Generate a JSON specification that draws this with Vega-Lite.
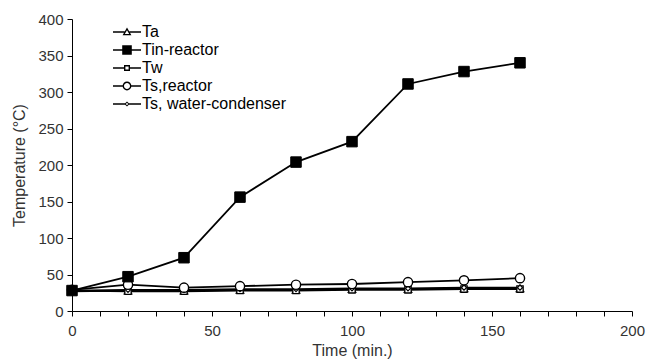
{
  "$schema": "https://vega.github.io/schema/vega-lite/v6.json",
  "width": 560,
  "height": 292,
  "autosize": {"type": "none"},
  "padding": {"left": 72, "top": 19, "right": 16, "bottom": 51},
  "config": {
    "view": {"stroke": null},
    "font": "Liberation Sans",
    "axis": {
      "grid": false,
      "domainColor": "#000000",
      "domainWidth": 1,
      "tickColor": "#000000",
      "tickSize": 5,
      "labelFont": "Liberation Sans",
      "labelFontSize": 15,
      "labelColor": "#333333",
      "titleFont": "Liberation Sans",
      "titleFontSize": 16,
      "titleFontWeight": "normal",
      "titleColor": "#333333"
    }
  },
  "data": {
    "values": [
      {"series": "Ta", "time": 0, "temp": 27},
      {"series": "Ta", "time": 20, "temp": 28},
      {"series": "Ta", "time": 40, "temp": 28},
      {"series": "Ta", "time": 60, "temp": 29},
      {"series": "Ta", "time": 80, "temp": 29},
      {"series": "Ta", "time": 100, "temp": 30},
      {"series": "Ta", "time": 120, "temp": 30},
      {"series": "Ta", "time": 140, "temp": 31},
      {"series": "Ta", "time": 160, "temp": 31},
      {"series": "Tin-reactor", "time": 0, "temp": 28},
      {"series": "Tin-reactor", "time": 20, "temp": 47},
      {"series": "Tin-reactor", "time": 40, "temp": 73},
      {"series": "Tin-reactor", "time": 60, "temp": 156},
      {"series": "Tin-reactor", "time": 80, "temp": 204},
      {"series": "Tin-reactor", "time": 100, "temp": 232},
      {"series": "Tin-reactor", "time": 120, "temp": 311},
      {"series": "Tin-reactor", "time": 140, "temp": 328},
      {"series": "Tin-reactor", "time": 160, "temp": 340},
      {"series": "Tw", "time": 0, "temp": 28},
      {"series": "Tw", "time": 20, "temp": 27},
      {"series": "Tw", "time": 40, "temp": 27},
      {"series": "Tw", "time": 60, "temp": 28},
      {"series": "Tw", "time": 80, "temp": 28},
      {"series": "Tw", "time": 100, "temp": 29},
      {"series": "Tw", "time": 120, "temp": 29},
      {"series": "Tw", "time": 140, "temp": 30},
      {"series": "Tw", "time": 160, "temp": 30},
      {"series": "Ts, water-condenser", "time": 0, "temp": 28},
      {"series": "Ts, water-condenser", "time": 20, "temp": 29},
      {"series": "Ts, water-condenser", "time": 40, "temp": 29},
      {"series": "Ts, water-condenser", "time": 60, "temp": 30},
      {"series": "Ts, water-condenser", "time": 80, "temp": 30},
      {"series": "Ts, water-condenser", "time": 100, "temp": 31},
      {"series": "Ts, water-condenser", "time": 120, "temp": 31},
      {"series": "Ts, water-condenser", "time": 140, "temp": 32},
      {"series": "Ts, water-condenser", "time": 160, "temp": 32},
      {"series": "Ts,reactor", "time": 0, "temp": 29},
      {"series": "Ts,reactor", "time": 20, "temp": 36},
      {"series": "Ts,reactor", "time": 40, "temp": 32},
      {"series": "Ts,reactor", "time": 60, "temp": 34},
      {"series": "Ts,reactor", "time": 80, "temp": 36},
      {"series": "Ts,reactor", "time": 100, "temp": 37},
      {"series": "Ts,reactor", "time": 120, "temp": 39.5},
      {"series": "Ts,reactor", "time": 140, "temp": 42},
      {"series": "Ts,reactor", "time": 160, "temp": 45}
    ]
  },
  "encoding": {
    "x": {
      "field": "time",
      "type": "quantitative",
      "scale": {"domain": [0, 200], "nice": false, "zero": false},
      "axis": {
        "title": "Time (min.)",
        "values": [0, 10, 20, 30, 40, 50, 60, 70, 80, 90, 100, 110, 120, 130, 140, 150, 160, 170, 180, 190, 200],
        "labelExpr": "datum.value % 50 === 0 ? datum.label : ''",
        "labelPadding": 7,
        "titlePadding": 4,
        "labelFlush": false
      }
    },
    "y": {
      "field": "temp",
      "type": "quantitative",
      "scale": {"domain": [0, 400], "nice": false},
      "axis": {
        "title": "Temperature (°C)",
        "values": [0, 50, 100, 150, 200, 250, 300, 350, 400],
        "labelPadding": 4,
        "titlePadding": 10
      }
    }
  },
  "layer": [
    {
      "mark": {"type": "line", "color": "#000000", "strokeWidth": 1.8},
      "encoding": {"detail": {"field": "series"}}
    },
    {
      "transform": [{"filter": "datum.series === 'Ta'"}],
      "mark": {"type": "point", "shape": "triangle-up", "size": 55, "filled": true, "fill": "#ffffff", "stroke": "#000000", "strokeWidth": 1.3, "opacity": 1}
    },
    {
      "transform": [{"filter": "datum.series === 'Tw'"}],
      "mark": {"type": "point", "shape": "square", "size": 40, "filled": true, "fill": "#ffffff", "stroke": "#000000", "strokeWidth": 1.3, "opacity": 1}
    },
    {
      "transform": [{"filter": "datum.series === 'Ts, water-condenser'"}],
      "mark": {"type": "point", "shape": "diamond", "size": 25, "filled": true, "fill": "#ffffff", "stroke": "#000000", "strokeWidth": 1.2, "opacity": 1}
    },
    {
      "transform": [{"filter": "datum.series === 'Ts,reactor'"}],
      "mark": {"type": "point", "shape": "circle", "size": 85, "filled": true, "fill": "#ffffff", "stroke": "#000000", "strokeWidth": 1.4, "opacity": 1}
    },
    {
      "transform": [{"filter": "datum.series === 'Tin-reactor'"}],
      "mark": {"type": "point", "shape": "square", "size": 110, "filled": true, "fill": "#000000", "stroke": "#000000", "strokeWidth": 1, "opacity": 1}
    },
    {
      "mark": {"type": "point", "filled": true, "color": "#000000", "opacity": 0, "size": 64},
      "encoding": {
        "shape": {
          "field": "series",
          "type": "nominal",
          "scale": {
            "domain": ["Ta", "Tin-reactor", "Tw", "Ts,reactor", "Ts, water-condenser"],
            "range": [
              "M-3.5,-0.2H-0.6V0.2H-3.5ZM0.6,-0.2H3.5V0.2H0.6ZM0,-1.1L1.1,0.8L-1.1,0.8ZM0,-0.45L-0.55,0.5L0.55,0.5Z",
              "M-3.5,-0.2H-1.1V0.2H-3.5ZM1.1,-0.2H3.5V0.2H1.1ZM-1.2,-1.2H1.2V1.2H-1.2Z",
              "M-3.5,-0.2H-0.7V0.2H-3.5ZM0.7,-0.2H3.5V0.2H0.7ZM-0.75,-0.75H0.75V0.75H-0.75ZM-0.4,-0.4V0.4H0.4V-0.4Z",
              "M-3.5,-0.2H-1V0.2H-3.5ZM1,-0.2H3.5V0.2H1ZM1.1,0A1.1,1.1 0 1,1 -1.1,0A1.1,1.1 0 1,1 1.1,0ZM0.75,0A0.75,0.75 0 1,0 -0.75,0A0.75,0.75 0 1,0 0.75,0Z",
              "M-3.5,-0.2H-0.5V0.2H-3.5ZM0.5,-0.2H3.5V0.2H0.5ZM0,-0.65L0.65,0L0,0.65L-0.65,0ZM0,-0.3L-0.3,0L0,0.3L0.3,0Z"
            ]
          },
          "legend": {
            "title": null,
            "orient": "none",
            "legendX": 47,
            "legendY": 5,
            "labelFont": "Liberation Sans",
            "labelFontSize": 16,
            "labelColor": "#000000",
            "labelOffset": 7,
            "rowPadding": 2,
            "symbolSize": 64,
            "symbolOpacity": 1,
            "symbolStrokeWidth": 0
          }
        }
      }
    }
  ]
}
